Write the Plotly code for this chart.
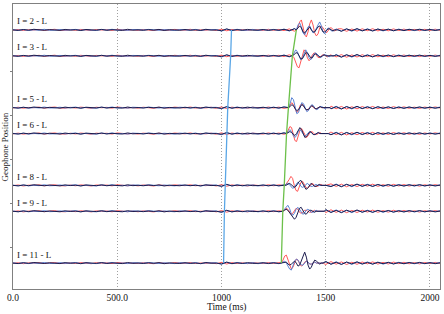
import numpy as np
import plotly.graph_objects as go

# ---------------- data ----------------
geophones = [2, 3, 5, 6, 8, 9, 11]
geo_labels = ["I = 2 - L", "I = 3 - L", "I = 5 - L", "I = 6 - L", "I = 8 - L", "I = 9 - L", "I = 11 - L"]

# first-break picks (ms) for each geophone
pick_blue = [1048, 1044, 1030, 1026, 1019, 1014, 1010]
pick_green = [1359, 1340, 1321, 1312, 1301, 1294, 1287]

# background noise, sampled every 25 ms from 0 to 2050 ms (amplitude units)
noise_t = list(range(0, 2051, 25))
dark_noise = [0, 0.5, -0.4, 0.3, -0.6, 0.2, 0.4, -0.3, 0, 0.5, -0.5, 0.2, -0.2, 0.6, -0.4, 0.1, 0.3, -0.5, 0.4, -0.2,
              0, 0.5, -0.6, 0.3, -0.1, 0.4, -0.3, 0.2, -0.5, 0.6, -0.2, 0.1, 0.4, -0.4, 0.3, -0.1, 0.5, -0.6, 0.2, 0,
              0.8, -1.0, 0.6, -0.3, 0.4, -0.5, 0.3, 0.2, -0.4, 0.5, -0.3, 0.4, -0.6, 0.8, -1.2, 1.0, -1.4, 1.2, -0.8, 1.5,
              -1.6, 1.2, -0.9, 1.4, -1.1, 0.8, -1.3, 1.0, -0.7, 1.1, -0.9, 0.6, -0.8, 0.9, -0.5, 0.7, -0.6, 0.4, -0.7, 0.5,
              -0.4, 0.6, -0.3]
red_noise = [0.3, -0.4, 0.6, -0.2, 0.1, -0.5, 0.4, 0.2, -0.6, 0.3, 0.5, -0.3, 0.4, -0.5, 0.2, 0.6, -0.4, 0.1, -0.3, 0.5,
             -0.6, 0.2, 0.4, -0.2, 0.5, -0.4, 0.1, 0.6, -0.3, -0.2, 0.4, -0.5, 0.2, 0.3, -0.6, 0.4, -0.1, 0.3, -0.4, 0.6,
             -0.7, 0.9, -0.5, 0.4, -0.3, 0.6, -0.4, 0.1, 0.5, -0.6, 0.4, -0.5, 0.7, -1.0, 1.3, -1.1, 1.5, -1.2, 1.6, -1.0,
             1.4, -1.5, 1.1, -1.2, 1.4, -0.9, 1.2, -1.1, 0.8, -1.2, 1.0, -0.7, 0.9, -1.0, 0.6, -0.8, 0.7, -0.5, 0.8, -0.6,
             0.5, -0.7, 0.4]
blue_noise = [-0.2, 0.4, -0.3, 0.5, -0.1, 0.3, -0.6, 0.4, 0.2, -0.4, 0.3, 0.1, -0.5, 0.4, -0.2, 0.3, 0.5, -0.4, 0.2, -0.6,
              0.3, -0.1, 0.5, -0.4, 0.2, 0.1, -0.5, 0.3, 0.4, -0.3, 0.2, 0.5, -0.4, 0.1, 0.3, -0.5, 0.6, -0.2, 0.1, -0.3,
              1.2, -0.8, 0.5, -0.6, 0.3, 0.4, -0.5, 0.6, -0.2, 0.3, -0.5, 0.6, -0.8, 1.1, -1.3, 1.4, -1.0, 1.6, -1.3, 1.2,
              -1.5, 1.0, -1.3, 1.1, -0.9, 1.3, -1.0, 0.8, -1.1, 0.9, -0.8, 1.0, -0.6, 0.7, -0.8, 0.5, -0.6, 0.7, -0.4, 0.6,
              -0.5, 0.3, -0.6]

# arrival wavelets, sampled every 8 ms from the green pick (amplitude units, + = down)
wave_dt = 8
red_waves = [
    [0, -3, -8, -10, -3, 5, 7, 2, -6, -10, -5, 3, 6, 4, -2, -4, -2, 1, 3, 1, -2, -2, 0, 1, 0, -1],
    [0, 2, 6, 11, 12, 6, -2, -6, -4, 2, 5, 3, -1, -3, -2, 1, 2, 1, -1, -1, 0, 1, 0, -1, 0, 0],
    [0, -2, -5, -3, 2, 5, 3, -2, -4, -2, 1, 3, 1, -1, -2, 0, 1, 1, 0, -1, 0, 0, 0, 0, 0, 0],
    [0, -3, -7, -6, 1, 7, 8, 3, -3, -5, -2, 2, 4, 2, -1, -2, -1, 1, 1, 0, -1, 0, 0, 0, 0, 0],
    [0, -1, -3, -6, -9, -7, 0, 5, 6, 2, -3, -4, -1, 2, 3, 1, -1, -2, 0, 1, 1, 0, -1, 0, 0, 0],
    [0, -1, -3, -2, 1, 3, 2, -1, -3, -2, 1, 2, 1, -1, -1, 0, 1, 1, 0, -1, 0, 0, 0, 0, 0, 0],
    [0, -3, -7, -8, -3, 3, 6, 4, -1, -4, -3, 1, 3, 2, -1, -2, -1, 1, 1, 0, -1, 0, 0, 0, 0, 0],
]
blue_waves = [
    [0, -5, -7, -3, 3, 5, 1, -3, -4, 0, 3, 2, -2, -5, -8, -4, 2, 4, 1, -2, -1, 1, 1, 0, -1, 0],
    [0, -3, -6, -4, 1, 4, 2, -3, -6, -3, 2, 4, 1, -2, -3, -1, 1, 2, 0, -1, -1, 0, 1, 0, 0, 0],
    [0, -4, -10, -8, 0, 6, 5, -1, -5, -4, 1, 4, 3, -1, -3, -2, 1, 2, 1, -1, -1, 0, 1, 0, 0, 0],
    [0, -2, -4, -2, 2, 4, 2, -2, -4, -2, 1, 3, 1, -1, -2, -1, 1, 1, 0, -1, 0, 0, 0, 0, 0, 0],
    [0, -1, -2, -1, 1, 3, 2, -1, -3, -2, 1, 2, 1, -1, -2, 0, 1, 1, 0, -1, 0, 0, 0, 0, 0, 0],
    [0, -2, -4, -6, -3, 2, 4, 2, -2, -4, -2, 1, 3, 2, -1, -2, -1, 1, 1, 0, -1, 0, 0, 0, 0, 0],
    [0, -1, -2, 0, 3, 6, 7, 3, -2, -4, -3, 0, 2, 2, 0, -2, -1, 1, 1, 0, -1, 0, 0, 0, 0, 0],
]
dark_waves = [
    [0, -2, -4, -2, 2, 3, 1, -2, -3, 0, 2, 2, -1, -3, -4, -1, 2, 2, 0, -1, -1, 0, 1, 0, 0, 0],
    [0, -1, -3, -3, 0, 3, 3, 0, -3, -3, 0, 2, 2, -1, -2, -1, 1, 1, 0, -1, 0, 0, 0, 0, 0, 0],
    [0, -1, -3, -2, 1, 3, 2, -1, -3, -2, 1, 2, 2, 0, -2, -1, 1, 1, 0, -1, 0, 0, 0, 0, 0, 0],
    [0, -1, -2, -1, 1, 2, 0, -3, -6, -4, 1, 4, 3, 0, -2, -1, 1, 1, 0, -1, 0, 0, 0, 0, 0, 0],
    [0, 0, -1, -2, -1, 1, 2, 1, -2, -4, -5, -2, 2, 4, 3, 0, -2, -1, 1, 1, 0, -1, 0, 0, 0, 0],
    [0, -1, -2, -1, 1, 3, 5, 8, 6, 1, -3, -4, -1, 2, 3, 1, -1, -1, 0, 1, 0, 0, 0, 0, 0, 0],
    [0, 0, -1, -1, 1, 2, 1, -1, -2, 0, 3, 2, -3, -7, -11, -6, 2, 6, 4, 0, -3, -2, 0, 1, 0, 0],
]

x_tickvals = [0, 500, 1000, 1500, 2000]
x_ticktext = ["0.0", "500.0", "1000", "1500", "2000"]

# ---------------- figure ----------------
GAIN = 1 / 26.0
SERIF = "Liberation Serif"
FS = 9
colors = {"red": "rgba(255,70,70,0.9)", "blue": "rgba(80,125,210,0.95)", "dark": "#1c1c4e"}

fig = go.Figure()


def build_trace(noise, wave, arrival):
    wt = [arrival + k * wave_dt for k in range(len(wave))]
    end = wt[-1]
    pts = [(t, v) for t, v in zip(noise_t, noise) if t < arrival or t > end]
    pts += list(zip(wt, wave))
    pts.sort()
    return [p[0] for p in pts], [p[1] for p in pts]


for gi, g in enumerate(geophones):
    arr = pick_green[gi]
    for name, noise, waves in (("red", red_noise, red_waves),
                               ("blue", blue_noise, blue_waves),
                               ("dark", dark_noise, dark_waves)):
        t, v = build_trace(noise, waves[gi], arr)
        fig.add_trace(go.Scatter(
            x=t, y=[g + a * GAIN for a in v], mode="lines",
            line=dict(color=colors[name], width=1), hoverinfo="skip", showlegend=False))

# first break pick lines
fig.add_trace(go.Scatter(x=pick_blue, y=geophones, mode="lines",
                         line=dict(color="#5aa6e6", width=1.3), showlegend=False, hoverinfo="skip"))
fig.add_trace(go.Scatter(x=pick_green, y=geophones, mode="lines",
                         line=dict(color="#6cc04a", width=1.3), showlegend=False, hoverinfo="skip"))

for g, lab in zip(geophones, geo_labels):
    fig.add_annotation(x=8, y=g - 0.06, text=lab, showarrow=False, xanchor="left", yanchor="bottom",
                       font=dict(family=SERIF, size=FS, color="#111"))

fig.add_annotation(xref="paper", yref="paper", x=-0.019, y=0.5, text="Geophone Position", textangle=-90,
                   showarrow=False, xanchor="center", yanchor="middle",
                   font=dict(family=SERIF, size=FS, color="#222"))
fig.add_annotation(xref="paper", yref="paper", x=0.5, y=-0.066, text="Time (ms)",
                   showarrow=False, xanchor="center", yanchor="middle",
                   font=dict(family=SERIF, size=FS + 0.5, color="#111"))

fig.update_layout(
    width=444, height=314,
    margin=dict(l=13, r=4, t=4, b=25, autoexpand=False),
    paper_bgcolor="white", plot_bgcolor="white",
    font=dict(family=SERIF, size=FS, color="#111"),
)
fig.update_xaxes(range=[0, 2048], tickvals=x_tickvals, ticktext=x_ticktext,
                 showgrid=True, gridcolor="#a0a0a0", griddash="1px,2px", gridwidth=1,
                 showline=True, linecolor="#808080", linewidth=1, mirror=True,
                 zeroline=False, ticks="", tickfont=dict(family=SERIF, size=FS + 0.5, color="#111"),
                 automargin=False)
fig.update_yaxes(range=[12, 1], tickvals=[3.6, 5.3, 7.0, 8.7, 10.4], showticklabels=False,
                 ticks="outside", ticklen=2, tickcolor="#808080",
                 showgrid=False, zeroline=False,
                 showline=True, linecolor="#808080", linewidth=1, mirror=True, automargin=False)

fig.write_html("out.html", config={"displayModeBar": False},
               post_script="document.body.style.margin='0';document.body.style.padding='0';"
                           "document.documentElement.style.overflow='hidden';")
